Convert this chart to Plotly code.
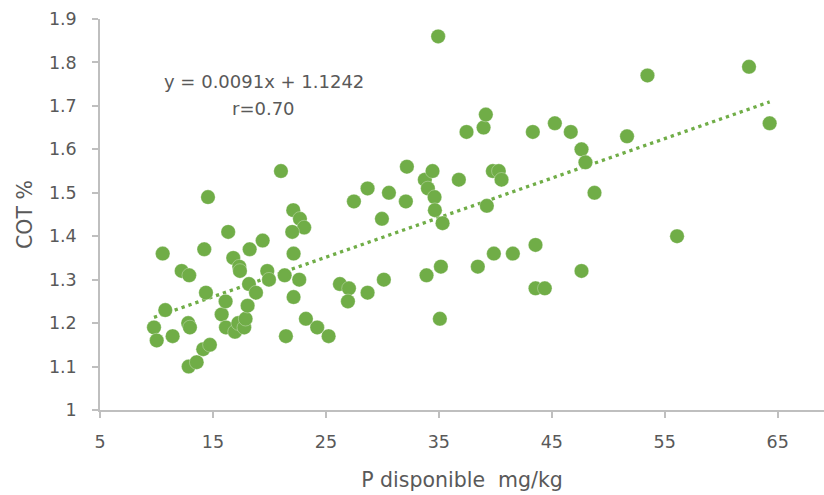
import plotly.graph_objects as go

p_disponible = [9.78, 10.02, 10.55, 10.78, 11.43, 12.23, 12.90, 12.81, 12.96, 12.85,
                13.56, 14.23, 14.38, 14.14, 14.73, 14.56, 15.77, 16.12, 16.35, 16.80,
                17.33, 17.39, 16.15, 16.95, 17.24, 17.77, 17.89, 18.07, 18.19, 18.81,
                18.25, 19.40, 19.81, 19.96, 21.02, 21.35, 21.46, 22.11, 22.70, 23.08,
                22.02, 22.14, 22.64, 22.14, 23.23, 24.23, 25.24, 26.24, 27.04, 26.95,
                27.48, 28.69, 28.69, 29.96, 30.13, 30.58, 32.08, 32.17, 33.76, 34.03,
                34.44, 34.62, 34.65, 33.91, 34.94, 35.18, 35.33, 35.09, 36.77, 37.45,
                38.96, 39.16, 39.25, 38.45, 39.78, 40.31, 40.55, 39.87, 41.55, 43.32,
                43.56, 43.56, 44.38, 45.27, 46.68, 47.63, 47.98, 47.63, 48.78, 51.66,
                53.47, 56.09, 62.46, 64.29]
cot = [1.19, 1.16, 1.36, 1.23, 1.17, 1.32, 1.31, 1.20, 1.19, 1.10,
       1.11, 1.37, 1.27, 1.14, 1.15, 1.49, 1.22, 1.25, 1.41, 1.35,
       1.33, 1.32, 1.19, 1.18, 1.20, 1.19, 1.21, 1.24, 1.29, 1.27,
       1.37, 1.39, 1.32, 1.30, 1.55, 1.31, 1.17, 1.46, 1.44, 1.42,
       1.41, 1.36, 1.30, 1.26, 1.21, 1.19, 1.17, 1.29, 1.28, 1.25,
       1.48, 1.51, 1.27, 1.44, 1.30, 1.50, 1.48, 1.56, 1.53, 1.51,
       1.55, 1.49, 1.46, 1.31, 1.86, 1.33, 1.43, 1.21, 1.53, 1.64,
       1.65, 1.68, 1.47, 1.33, 1.55, 1.55, 1.53, 1.36, 1.36, 1.64,
       1.38, 1.28, 1.28, 1.66, 1.64, 1.60, 1.57, 1.32, 1.50, 1.63,
       1.77, 1.40, 1.79, 1.66]

slope = 0.0091
intercept = 1.1242
equation_text = "y = 0.0091x + 1.1242"
r_text = "r=0.70"
x_tick_vals = [5, 15, 25, 35, 45, 55, 65]
y_tick_vals = [1, 1.1, 1.2, 1.3, 1.4, 1.5, 1.6, 1.7, 1.8, 1.9]
y_tick_text = ["1", "1.1", "1.2", "1.3", "1.4", "1.5", "1.6", "1.7", "1.8", "1.9"]

green = "#70AD47"
grey_text = "#595959"
axis_col = "#BFBFBF"
font = "DejaVu Sans"

trend_x = [min(p_disponible), max(p_disponible)]
trend_y = [slope * v + intercept for v in trend_x]

fig = go.Figure()
fig.add_trace(go.Scatter(
    x=trend_x, y=trend_y, mode="lines",
    line=dict(color=green, width=3.3, dash="3.3px,4px"),
    hoverinfo="skip", showlegend=False))
fig.add_trace(go.Scatter(
    x=p_disponible, y=cot, mode="markers",
    marker=dict(color=green, size=14.5, line=dict(color="rgba(255,255,255,0.5)", width=0.6)),
    showlegend=False))

fig.add_annotation(x=19.5, y=1.757, text=equation_text, showarrow=False,
                   xanchor="center", yanchor="middle",
                   font=dict(family=font, size=18, color=grey_text))
fig.add_annotation(x=19.5, y=1.693, text=r_text, showarrow=False,
                   xanchor="center", yanchor="middle",
                   font=dict(family=font, size=18, color=grey_text))

fig.update_layout(
    width=824, height=495,
    margin=dict(l=100, r=0, t=19, b=85),
    plot_bgcolor="white", paper_bgcolor="white",
    font=dict(family=font, color=grey_text),
    xaxis=dict(
        range=[5, 69.1], tickvals=x_tick_vals, showgrid=False, zeroline=False,
        showline=True, linecolor=axis_col, linewidth=1.5,
        ticks="outside", ticklen=6, tickcolor=axis_col, tickwidth=1.5,
        tickfont=dict(family=font, size=17.5, color=grey_text),
        ticklabelstandoff=9,
        title=dict(text="P disponible  mg/kg", font=dict(family=font, size=20.5, color=grey_text), standoff=22),
    ),
    yaxis=dict(
        range=[1, 1.9], tickvals=y_tick_vals, ticktext=y_tick_text, showgrid=False, zeroline=False,
        showline=True, linecolor=axis_col, linewidth=1.5,
        ticks="outside", ticklen=6, tickcolor=axis_col, tickwidth=1.5,
        tickfont=dict(family=font, size=17.5, color=grey_text),
        ticklabelstandoff=12,
        title=dict(text="COT %", font=dict(family=font, size=20.5, color=grey_text), standoff=11),
    ),
)

fig.write_html("out.html")
